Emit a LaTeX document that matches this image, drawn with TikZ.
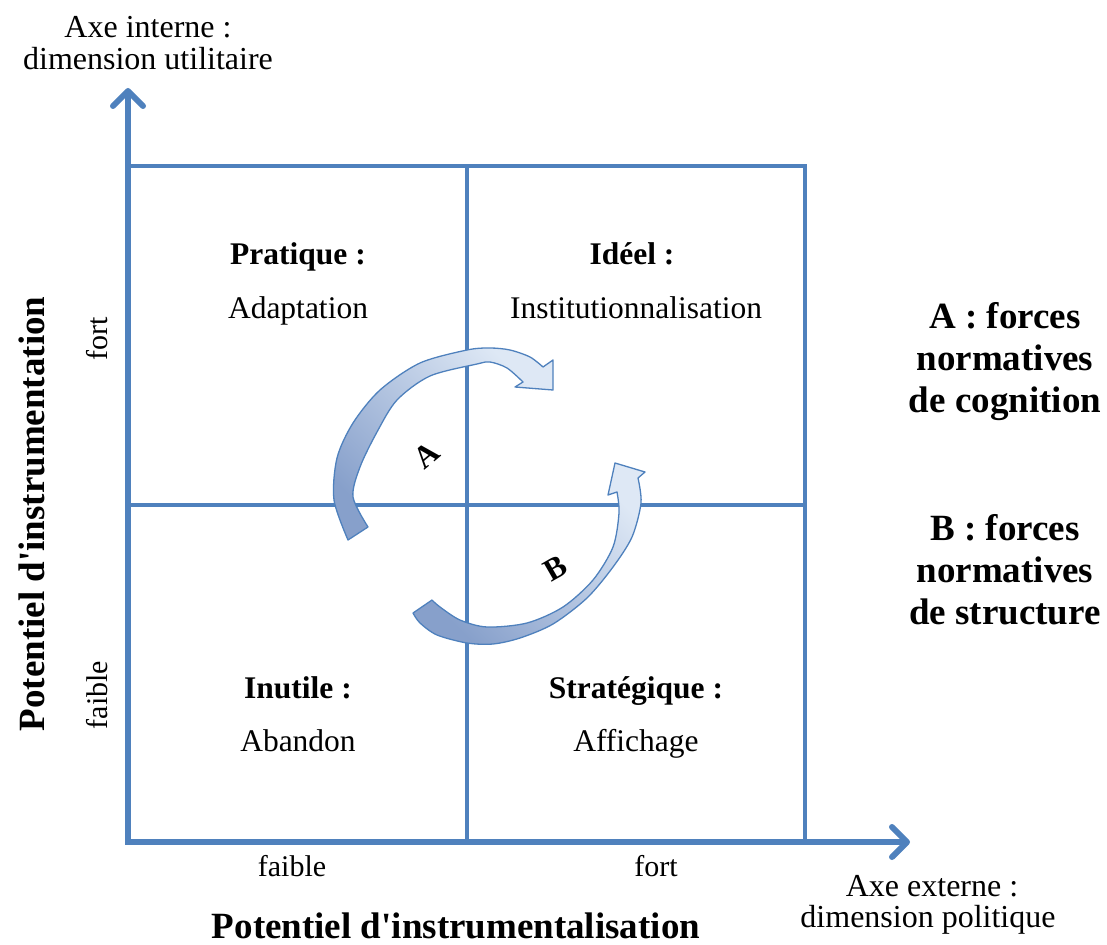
\documentclass[tikz,border=0pt]{standalone}
\usepackage{fontspec}
\setmainfont{Liberation Serif}
\usetikzlibrary{arrows.meta}
\definecolor{axisblue}{RGB}{79,129,189}
\definecolor{arrowdark}{RGB}{135,160,203}
\definecolor{arrowlight}{RGB}{222,232,245}

\begin{document}
\begin{tikzpicture}[x=1pt,y=-1pt,
    axisline/.style={line width=6pt,axisblue,-{Straight Barb[length=15pt,width=30pt,round]}},
    gridline/.style={line width=3.6pt,axisblue},
    cyclearrow/.style={draw=axisblue,line width=1.3pt,line join=round,top color=arrowlight,bottom color=arrowdark,shading angle=-45},
    quadtitle/.style={anchor=base,font=\fontsize{31.5}{38}\selectfont\bfseries},
    quadtext/.style={anchor=base,font=\fontsize{31.5}{38}\selectfont},
    levellabel/.style={font=\fontsize{30}{36}\selectfont},
    cornerlabel/.style={anchor=base,font=\fontsize{32}{36}\selectfont},
    biglabel/.style={font=\fontsize{37}{42}\selectfont\bfseries}]
  \useasboundingbox (0,0) rectangle (1107,944);

  % corners of the matrix
  \coordinate (O) at (128,842);
  \coordinate (TL) at (128,166);
  \coordinate (TR) at (805,166);
  \coordinate (BR) at (805,842);
  \coordinate (TM) at (467,166);
  \coordinate (BM) at (467,842);
  \coordinate (ML) at (128,505);
  \coordinate (MR) at (805,505);
  \coordinate (ytip) at (128,88);
  \coordinate (xtip) at (910,842);

  \draw[gridline] (TL) -- (TR) -- (BR);
  \draw[gridline] (TM) -- (BM);
  \draw[gridline] (ML) -- (MR);
  \draw[axisline] ([yshift=3pt]O) -- (ytip);
  \draw[axisline] ([xshift=-3pt]O) -- (xtip);

  % arrow A
  \path[cyclearrow] plot[smooth] coordinates {(348,540) (334,500) (337,458) (353,423) (380,390) (420,363) (467,350) (490,348) (510,350) (530,357) (543,367)}
    -- (553,360) -- (553,390) -- (515,387)
    -- plot[smooth] coordinates {(523,382) (507,368) (490,362) (477,364) (430,376) (397,400) (377,432) (360,467) (353,497) (368,527)} -- cycle;
  % arrow B
  \path[cyclearrow] plot[smooth] coordinates {(413,613) (420,623) (437,635) (467,643) (493,644) (520,638) (553,624) (587,598) (613,567) (632,537) (641,503) (638,478)}
    -- (645,472) -- (615,463) -- (608,495)
    -- plot[smooth] coordinates {(617,492) (619,513) (613,547) (593,580) (563,607) (527,623) (487,627) (460,620) (440,607) (432,600)} -- cycle;
  \node[font=\fontsize{31.5}{38}\selectfont\bfseries,rotate=40] (lettA) at (427,455) {A};
  \node[font=\fontsize{31.5}{38}\selectfont\bfseries,rotate=30] (lettB) at (555,568) {B};

  % quadrants
  \node[quadtitle] (pratique) at (298,264) {Pratique :};
  \node[quadtext] (adaptation) at (298,318) {Adaptation};
  \node[quadtitle] (ideel) at (632,264) {Idéel :};
  \node[quadtext] (institution) at (636,318) {Institutionnalisation};
  \node[quadtitle] (inutile) at (298,698) {Inutile :};
  \node[quadtext] (abandon) at (298,751) {Abandon};
  \node[quadtitle] (strategique) at (636,698) {Stratégique :};
  \node[quadtext] (affichage) at (636,751) {Affichage};

  % axis labels
  \node[cornerlabel] (interne) at (148,38) {Axe interne :};
  \node[cornerlabel] (utilitaire) at (148,70) {dimension utilitaire};
  \node[cornerlabel] (externe) at (932,896) {Axe externe :};
  \node[cornerlabel] (politique) at (928,927) {dimension politique};
  \node[levellabel,rotate=90] (yfort) at (97,339) {fort};
  \node[levellabel,rotate=90] (yfaible) at (97,695) {faible};
  \node[levellabel,anchor=base] (xfaible) at (292,876) {faible};
  \node[levellabel,anchor=base] (xfort) at (656,876) {fort};
  \node[biglabel,anchor=base,inner sep=1pt] (xtitle) at (456,938) {Potentiel d\textquotesingle instrumentalisation};
  \node[biglabel,rotate=90] (ytitle) at (32,514) {Potentiel d\textquotesingle instrumentation};

  % legend
  \node[biglabel,anchor=base] (legA) at (1005,328) {A : forces};
  \node[biglabel,anchor=base] (legA2) at (1005,370) {normatives};
  \node[biglabel,anchor=base] (legA3) at (1005,412) {de cognition};
  \node[biglabel,anchor=base] (legB) at (1005,540) {B : forces};
  \node[biglabel,anchor=base] (legB2) at (1005,582) {normatives};
  \node[biglabel,anchor=base] (legB3) at (1005,624) {de structure};
\end{tikzpicture}
\end{document}
